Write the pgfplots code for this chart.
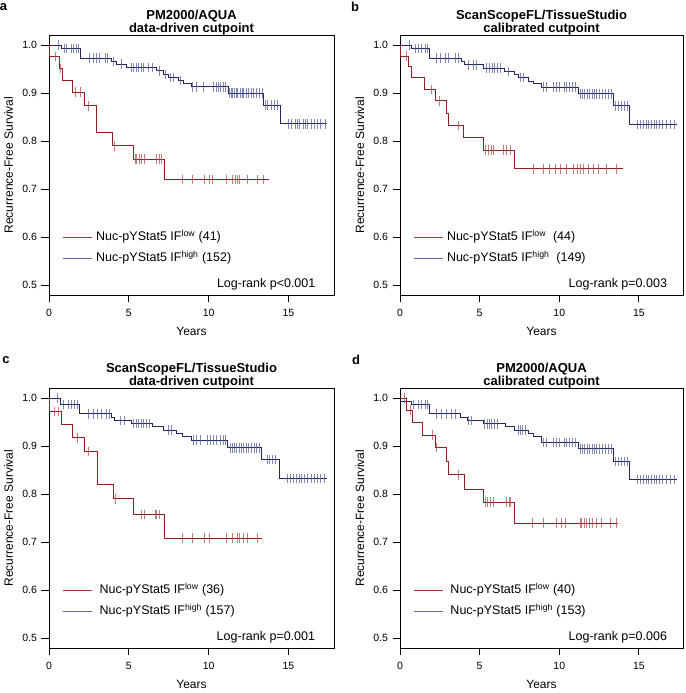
\documentclass[border=0pt]{standalone}
\usepackage{fontspec}
\setmainfont{Liberation Sans}
\usepackage{pgfplots}
\pgfplotsset{compat=1.18}

\definecolor{kmred}{RGB}{150,30,35}
\definecolor{kmblue}{RGB}{35,40,95}
\definecolor{kmredmark}{RGB}{175,80,80}
\definecolor{kmbluemark}{RGB}{85,95,150}
\definecolor{legred}{RGB}{170,55,55}
\definecolor{legblue}{RGB}{100,105,170}

\tikzset{
 plab/.style={font=\fontsize{13}{14}\selectfont\bfseries, anchor=center},
 lrk/.style={font=\fontsize{12.5}{14}\selectfont, anchor=base east},
}
\pgfplotsset{
 km/.style={
  scale only axis, width=285pt, height=260pt, anchor=south west, clip mode=individual,
  xmin=0, xmax=17.85, ymin=0.479, ymax=1.021,
  xtick={0,5,10,15}, ytick={0.5,0.6,0.7,0.8,0.9,1.0},
  yticklabel style={/pgf/number format/fixed, /pgf/number format/fixed zerofill, /pgf/number format/precision=1},
  /pgf/number format/assume math mode=true,
  tick label style={font=\fontsize{10.5}{12}\selectfont},
  xticklabel style={yshift=-3pt},
  yticklabel style={xshift=-1pt},
  label style={font=\fontsize{12}{14}\selectfont},
  tick align=outside, tick pos=left, major tick length=7.5pt,
  tick style={black, line width=0.8pt},
  axis line style={line width=0.8pt},
  xlabel={Years}, ylabel={Recurrence-Free Survival},
  xlabel style={at={(axis description cs:0.5,-0.142)}, anchor=center},
  ylabel style={at={(axis description cs:-0.142,0.5)}, anchor=center},
  title style={font=\fontsize{13}{13.5}\selectfont\bfseries, align=center, at={(axis description cs:0.5,1)}, anchor=south, yshift=-10pt},
  legend style={at={(axis description cs:0.046,0.253)}, anchor=north west, draw=none, fill=none,
     font=\fontsize{12.5}{14}\selectfont, row sep=5.5pt, column sep=3pt, inner sep=0pt,
     nodes={text height=10pt, text depth=3.5pt, inner sep=1pt}},
  legend cell align=left,
  legend image code/.code={\draw[#1] (0pt,0pt) -- (29pt,0pt);},
 },
 kmstep/.style={const plot, line width=1pt, forget plot},
 redline/.style={kmstep, color=kmred},
 blueline/.style={kmstep, color=kmblue},
 cens/.style={only marks, mark=|, mark size=4.8pt, forget plot, mark options={line width=0.6pt, opacity=0.75}},
 redcens/.style={cens, color=kmredmark},
 bluecens/.style={cens, color=kmbluemark},
}

\begin{document}
\begin{tikzpicture}
\useasboundingbox (0,0) rectangle (685pt,693pt);

% ---------------- Panel a ----------------
\begin{axis}[km, at={(49pt,398pt)}, title={PM2000/AQUA\\data-driven cutpoint}]
\addlegendimage{line width=0.8pt, draw=legred}
\addlegendentry{Nuc-pYStat5 IF\textsuperscript{low} (41)}
\addlegendimage{line width=0.8pt, draw=legblue}
\addlegendentry{Nuc-pYStat5 IF\textsuperscript{high} (152)}
\addplot[blueline] coordinates {(0,1) (0.78,0.993) (2.0,0.973) (3.9,0.966) (4.25,0.960) (4.86,0.953) (6.74,0.946) (7.2,0.939) (7.47,0.932) (8.1,0.926) (8.4,0.919) (8.94,0.913) (11.24,0.900) (13.43,0.875) (14.48,0.836) (17.41,0.836)};
\addplot[bluecens] coordinates {(0.57,1) (0.94,0.993) (1.09,0.993) (1.41,0.993) (1.55,0.993) (1.72,0.993) (1.86,0.993)
 (2.55,0.973) (2.8,0.973) (2.97,0.973) (3.18,0.973) (3.5,0.973) (3.64,0.973) (4.02,0.966) (4.5,0.960)
 (5.17,0.953) (5.3,0.953) (5.45,0.953) (5.6,0.953) (5.75,0.953) (5.9,0.953) (6.2,0.953) (6.5,0.953)
 (6.9,0.946) (7.3,0.939) (7.6,0.932) (7.8,0.932) (8.2,0.926)
 (9.0,0.913) (9.25,0.913) (9.67,0.913) (10.3,0.913) (10.46,0.913) (10.6,0.913) (10.75,0.913) (10.9,0.913) (11.05,0.913)
 (11.3,0.9) (11.4,0.9) (11.5,0.9) (11.6,0.9) (11.7,0.9) (11.8,0.9) (11.95,0.9) (12.1,0.9) (12.2,0.9) (12.35,0.9) (12.5,0.9) (12.65,0.9) (12.8,0.9) (13.0,0.9) (13.2,0.9) (13.35,0.9)
 (13.55,0.875) (13.7,0.875) (13.9,0.875) (14.1,0.875) (14.3,0.875)
 (15.0,0.836) (15.2,0.836) (15.4,0.836) (15.55,0.836) (15.7,0.836) (15.9,0.836) (16.05,0.836) (16.2,0.836) (16.4,0.836) (16.6,0.836) (16.8,0.836) (17.0,0.836) (17.3,0.836)};
\addplot[redline] coordinates {(0,1) (0.06,0.976) (0.63,0.951) (0.84,0.927) (1.47,0.902) (2.24,0.873) (3.0,0.818) (4.0,0.790) (5.27,0.762) (7.26,0.720) (13.75,0.720)};
\addplot[redcens] coordinates {(0.4,0.976) (0.7,0.951) (1.67,0.902) (1.97,0.902) (2.44,0.873) (4.1,0.790)
 (5.39,0.762) (5.49,0.762) (5.65,0.762) (5.8,0.762) (5.95,0.762) (6.74,0.762) (6.9,0.762) (7.05,0.762)
 (8.37,0.72) (9.0,0.72) (9.71,0.72) (10.04,0.72) (10.21,0.72) (11.13,0.72) (11.49,0.72) (11.66,0.72) (11.8,0.72) (11.93,0.72) (12.43,0.72) (13.06,0.72) (13.43,0.72)};
\node[plab] at (rel axis cs:-0.16,1.108) {a};
\node[lrk] at (rel axis cs:0.947,0.027) {Log-rank p<0.001};
\end{axis}

% ---------------- Panel b ----------------
\begin{axis}[km, at={(400pt,398pt)}, width=283pt, xmax=17.77, title={ScanScopeFL/TissueStudio\\calibrated cutpoint}]
\addlegendimage{line width=0.8pt, draw=legred}
\addlegendentry{Nuc-pYStat5 IF\textsuperscript{low}\ \ (44)}
\addlegendimage{line width=0.8pt, draw=legblue}
\addlegendentry{Nuc-pYStat5 IF\textsuperscript{high}\ \ (149)}
\addplot[blueline] coordinates {(0,1) (0.73,0.993) (1.88,0.973) (3.87,0.966) (4.08,0.959) (5.23,0.952) (6.59,0.945) (7.22,0.939) (7.43,0.932) (8.06,0.925) (8.37,0.919) (8.9,0.912) (11.2,0.898) (13.39,0.873) (14.44,0.834) (17.37,0.834)};
\addplot[bluecens] coordinates {(0.6,1) (0.94,0.993) (1.15,0.993) (1.36,0.993) (1.57,0.993) (1.72,0.993)
 (2.3,0.973) (2.51,0.973) (2.83,0.973) (3.03,0.973) (3.45,0.973) (3.66,0.973)
 (4.29,0.959) (4.6,0.959) (4.81,0.959)
 (5.4,0.952) (5.6,0.952) (5.8,0.952) (5.95,0.952) (6.1,0.952) (6.3,0.952) (6.8,0.945) (7.55,0.932) (7.75,0.932)
 (9.0,0.912) (9.2,0.912) (9.6,0.912) (9.8,0.912) (10.0,0.912) (10.3,0.912) (10.45,0.912) (10.6,0.912) (10.8,0.912) (11.0,0.912)
 (11.3,0.898) (11.45,0.898) (11.6,0.898) (11.75,0.898) (11.9,0.898) (12.05,0.898) (12.2,0.898) (12.35,0.898) (12.5,0.898) (12.7,0.898) (12.9,0.898) (13.1,0.898) (13.25,0.898)
 (13.5,0.873) (13.7,0.873) (13.9,0.873) (14.1,0.873) (14.3,0.873)
 (14.9,0.834) (15.1,0.834) (15.3,0.834) (15.45,0.834) (15.6,0.834) (15.8,0.834) (15.95,0.834) (16.1,0.834) (16.3,0.834) (16.5,0.834) (16.7,0.834) (16.95,0.834) (17.2,0.834)};
\addplot[redline] coordinates {(0,1) (0.05,0.977) (0.52,0.955) (0.73,0.932) (1.51,0.907) (2.2,0.884) (2.93,0.858) (3.03,0.832) (3.97,0.807) (5.23,0.781) (7.22,0.742) (13.98,0.742)};
\addplot[redcens] coordinates {(0.4,0.977) (1.99,0.907) (2.48,0.884) (3.67,0.832)
 (5.34,0.781) (5.55,0.781) (5.76,0.781) (5.86,0.781) (6.49,0.781) (6.7,0.781) (6.9,0.781)
 (8.37,0.742) (9.0,0.742) (9.37,0.742) (9.73,0.742) (10.04,0.742) (10.46,0.742) (10.88,0.742) (11.13,0.742) (11.3,0.742) (11.51,0.742) (11.82,0.742) (12.13,0.742) (12.45,0.742) (12.97,0.742) (13.6,0.742)};
\node[plab] at (rel axis cs:-0.159,1.108) {b};
\node[lrk] at (rel axis cs:0.956,0.027) {Log-rank p=0.003};
\end{axis}

% ---------------- Panel c ----------------
\begin{axis}[km, at={(49pt,45pt)}, title={ScanScopeFL/TissueStudio\\data-driven cutpoint}]
\addlegendimage{line width=0.8pt, draw=legred}
\addlegendentry{\ Nuc-pYStat5 IF\textsuperscript{low} (36)}
\addlegendimage{line width=0.8pt, draw=legblue}
\addlegendentry{\ Nuc-pYStat5 IF\textsuperscript{high} (157)}
\addplot[blueline] coordinates {(0,1) (0.72,0.987) (1.93,0.967) (3.91,0.960) (4.12,0.953) (5.17,0.947) (6.5,0.940) (7.16,0.933) (8.0,0.926) (8.37,0.919) (8.94,0.912) (11.18,0.896) (13.33,0.872) (14.43,0.832) (17.41,0.832)};
\addplot[bluecens] coordinates {(0.5,1) (0.88,0.987) (1.19,0.987) (1.41,0.987) (1.61,0.987) (1.76,0.987)
 (2.45,0.967) (2.76,0.967) (3.01,0.967) (3.29,0.967) (3.6,0.967) (3.77,0.967)
 (4.44,0.953) (4.69,0.953)
 (5.3,0.947) (5.45,0.947) (5.6,0.947) (5.75,0.947) (5.9,0.947) (6.1,0.947) (6.3,0.947) (7.47,0.933) (7.68,0.933)
 (9.05,0.912) (9.25,0.912) (9.5,0.912) (9.9,0.912) (10.1,0.912) (10.3,0.912) (10.5,0.912) (10.7,0.912) (10.9,0.912) (11.05,0.912)
 (11.35,0.896) (11.5,0.896) (11.6,0.896) (11.75,0.896) (11.9,0.896) (12.05,0.896) (12.2,0.896) (12.35,0.896) (12.5,0.896) (12.7,0.896) (12.85,0.896) (13.0,0.896) (13.2,0.896)
 (13.65,0.872) (13.8,0.872) (14.0,0.872) (14.2,0.872)
 (14.9,0.832) (15.1,0.832) (15.3,0.832) (15.5,0.832) (15.65,0.832) (15.8,0.832) (16.0,0.832) (16.2,0.832) (16.4,0.832) (16.6,0.832) (16.8,0.832) (17.0,0.832) (17.25,0.832)};
\addplot[redline] coordinates {(0,1) (0.04,0.972) (0.78,0.944) (1.47,0.917) (2.24,0.889) (3.01,0.820) (4.02,0.790) (5.27,0.757) (7.26,0.708) (13.37,0.708)};
\addplot[redcens] coordinates {(0.35,0.972) (0.57,0.972) (1.76,0.917) (2.45,0.889) (4.15,0.790)
 (5.8,0.757) (5.95,0.757) (6.64,0.757) (6.74,0.757) (6.9,0.757)
 (8.37,0.708) (9.0,0.708) (9.71,0.708) (10.04,0.708) (11.13,0.708) (11.49,0.708) (11.8,0.708) (11.93,0.708) (12.14,0.708) (12.43,0.708) (13.02,0.708)};
\node[plab] at (rel axis cs:-0.151,1.108) {c};
\node[lrk] at (rel axis cs:0.946,0.027) {Log-rank p=0.001};
\end{axis}

% ---------------- Panel d ----------------
\begin{axis}[km, at={(400pt,45pt)}, width=283pt, xmax=17.77, title={PM2000/AQUA\\calibrated cutpoint}]
\addlegendimage{line width=0.8pt, draw=legred}
\addlegendentry{\ Nuc-pYStat5 IF\textsuperscript{low} (40)}
\addlegendimage{line width=0.8pt, draw=legblue}
\addlegendentry{\ Nuc-pYStat5 IF\textsuperscript{high} (153)}
\addplot[blueline] coordinates {(0,0.993) (0.73,0.987) (1.88,0.967) (3.77,0.960) (4.23,0.953) (5.23,0.946) (6.6,0.940) (7.22,0.933) (8.06,0.926) (8.37,0.919) (8.9,0.907) (11.2,0.894) (13.39,0.868) (14.44,0.830) (17.37,0.830)};
\addplot[bluecens] coordinates {(0.42,0.993) (0.84,0.987) (1.15,0.987) (1.36,0.987) (1.57,0.987) (1.72,0.987)
 (2.3,0.967) (2.62,0.967) (2.93,0.967) (3.24,0.967) (3.45,0.967)
 (4.29,0.953) (4.5,0.953)
 (5.3,0.946) (5.45,0.946) (5.6,0.946) (5.75,0.946) (5.9,0.946) (6.1,0.946)
 (7.4,0.933) (7.55,0.933) (7.7,0.933) (7.85,0.933)
 (9.0,0.907) (9.2,0.907) (9.6,0.907) (9.8,0.907) (10.0,0.907) (10.3,0.907) (10.45,0.907) (10.6,0.907) (10.8,0.907) (11.0,0.907)
 (11.3,0.894) (11.45,0.894) (11.6,0.894) (11.75,0.894) (11.9,0.894) (12.05,0.894) (12.2,0.894) (12.35,0.894) (12.5,0.894) (12.7,0.894) (12.9,0.894) (13.1,0.894) (13.25,0.894)
 (13.5,0.868) (13.7,0.868) (13.9,0.868) (14.1,0.868) (14.3,0.868)
 (14.9,0.83) (15.1,0.83) (15.3,0.83) (15.45,0.83) (15.6,0.83) (15.8,0.83) (15.95,0.83) (16.1,0.83) (16.3,0.83) (16.5,0.83) (16.7,0.83) (16.95,0.83) (17.2,0.83)};
\addplot[redline] coordinates {(0,1) (0.42,0.975) (0.80,0.950) (1.42,0.923) (2.2,0.897) (2.93,0.868) (3.03,0.840) (4.02,0.810) (5.23,0.783) (7.22,0.739) (13.7,0.739)};
\addplot[redcens] coordinates {(0.3,1) (0.63,0.975) (2.05,0.923) (2.3,0.897) (3.67,0.840)
 (5.34,0.783) (5.5,0.783) (5.69,0.783) (5.86,0.783) (6.7,0.783) (6.86,0.783) (6.95,0.783)
 (8.33,0.739) (9.0,0.739) (9.83,0.739) (10.15,0.739) (10.36,0.739) (11.3,0.739) (11.4,0.739) (11.55,0.739) (11.72,0.739) (11.88,0.739) (12.1,0.739) (12.34,0.739) (12.66,0.739) (13.18,0.739) (13.6,0.739)};
\node[plab] at (rel axis cs:-0.155,1.108) {d};
\node[lrk] at (rel axis cs:0.956,0.027) {Log-rank p=0.006};
\end{axis}
\end{tikzpicture}
\end{document}
